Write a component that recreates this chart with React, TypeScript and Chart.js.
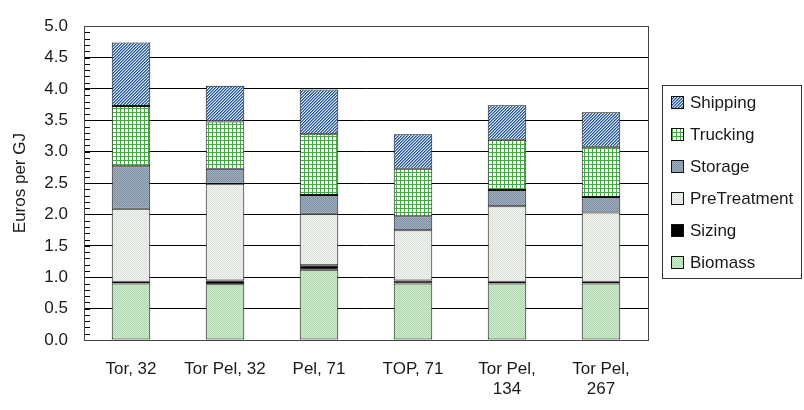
import React, { useEffect, useRef } from "react";
import { Chart, registerables } from "chart.js";

Chart.register(...registerables);

const categories: (string | string[])[] = [
  "Tor, 32",
  "Tor Pel, 32",
  "Pel, 71",
  "TOP, 71",
  ["Tor Pel,", "134"],
  ["Tor Pel,", "267"],
];
const biomass = [0.9, 0.89, 1.12, 0.9, 0.9, 0.9];
const sizing = [0.03, 0.06, 0.07, 0.05, 0.03, 0.03];
const preTreatment = [1.16, 1.54, 0.82, 0.8, 1.2, 1.1];
const storage = [0.68, 0.24, 0.3, 0.22, 0.26, 0.25];
const trucking = [0.96, 0.75, 0.97, 0.76, 0.8, 0.8];
const shipping = [1.01, 0.57, 0.71, 0.55, 0.55, 0.55];
const yTicks = [0, 0.5, 1, 1.5, 2, 2.5, 3, 3.5, 4, 4.5, 5];

const FONT = "'Liberation Sans', Arial, sans-serif";
const FONT_SIZE = 17;
const TEXT = "#1a1a1a";

function makePattern(size: number, draw: (c: CanvasRenderingContext2D) => void) {
  const cv = document.createElement("canvas");
  cv.width = size;
  cv.height = size;
  const c = cv.getContext("2d")!;
  draw(c);
  return c.createPattern(cv, "repeat")!;
}

function checker(a: string, b: string) {
  return makePattern(2, (c) => {
    c.fillStyle = a;
    c.fillRect(0, 0, 2, 2);
    c.fillStyle = b;
    c.fillRect(0, 0, 1, 1);
    c.fillRect(1, 1, 1, 1);
  });
}

const frameAndLegend = {
  id: "frameAndLegend",
  afterDraw(chart: any) {
    const { ctx, chartArea } = chart;
    const yScale = chart.scales.y;
    ctx.save();
    // minor ticks inside the plot
    ctx.strokeStyle = "#000";
    ctx.lineWidth = 1;
    ctx.beginPath();
    const x0 = Math.round(chartArea.left);
    for (let i = 0; i <= 50; i++) {
      const py = Math.round(yScale.getPixelForValue(i / 10)) + 0.5;
      ctx.moveTo(x0, py);
      ctx.lineTo(x0 + 6, py);
    }
    ctx.stroke();
    // plot frame
    ctx.strokeStyle = "#444";
    ctx.strokeRect(
      Math.round(chartArea.left) + 0.5,
      Math.round(chartArea.top) + 0.5,
      Math.round(chartArea.right - chartArea.left),
      Math.round(chartArea.bottom - chartArea.top)
    );
    // legend
    const lx = Math.round(chartArea.right) + 14;
    const ly = 85;
    const lw = 139;
    const lh = 193;
    ctx.strokeStyle = "#333";
    ctx.strokeRect(lx + 0.5, ly + 0.5, lw, lh);
    const ds = chart.data.datasets.slice().reverse();
    ctx.font = `${FONT_SIZE}px ${FONT}`;
    ctx.textBaseline = "middle";
    ds.forEach((d: any, i: number) => {
      const cy = ly + 17 + i * 32;
      ctx.fillStyle = d.backgroundColor;
      ctx.fillRect(lx + 9, cy - 6, 13, 13);
      ctx.strokeStyle = "#111";
      ctx.strokeRect(lx + 9.5, cy - 5.5, 12, 12);
      ctx.fillStyle = TEXT;
      ctx.fillText(d.label, lx + 28, cy + 1);
    });
    ctx.restore();
  },
};

export default function App() {
  const ref = useRef<HTMLCanvasElement>(null);
  useEffect(() => {
    const canvas = ref.current!;
    const shipPat = makePattern(3, (c) => {
      c.fillStyle = "#dbe6f4";
      c.fillRect(0, 0, 3, 3);
      for (let i = 0; i < 3; i++) {
        c.fillStyle = "#2a5894";
        c.fillRect(i, 2 - i, 1, 1);
        c.fillStyle = "#6f93c4";
        c.fillRect((i + 1) % 3, 2 - i, 1, 1);
      }
    });
    const truckPat = makePattern(4, (c) => {
      c.fillStyle = "#ffffff";
      c.fillRect(0, 0, 4, 4);
      c.fillStyle = "#45a845";
      c.fillRect(0, 0, 4, 1);
      c.fillRect(0, 0, 1, 4);
    });
    const storagePat = checker("#9eacbc", "#8393a7");
    const prePat = checker("#f3f5f1", "#d9e0d8");
    const bioPat = checker("#cdeacd", "#b2dab2");

    const common = {
      borderColor: "#111",
      borderWidth: 1,
      borderSkipped: false as const,
      categoryPercentage: 1,
      barPercentage: 0.41,
    };
    const chart = new Chart(canvas, {
      type: "bar",
      data: {
        labels: categories,
        datasets: [
          { label: "Biomass", data: biomass, backgroundColor: bioPat, ...common },
          { label: "Sizing", data: sizing, backgroundColor: "#000", ...common },
          { label: "PreTreatment", data: preTreatment, backgroundColor: prePat, ...common },
          { label: "Storage", data: storage, backgroundColor: storagePat, ...common },
          { label: "Trucking", data: trucking, backgroundColor: truckPat, ...common },
          { label: "Shipping", data: shipping, backgroundColor: shipPat, ...common },
        ] as any,
      },
      options: {
        responsive: false,
        animation: false,
        devicePixelRatio: 1,
        layout: { padding: { top: 21, right: 156, left: 0, bottom: 0 } },
        plugins: { legend: { display: false }, tooltip: { enabled: false } },
        scales: {
          x: {
            stacked: true,
            grid: { display: false, drawTicks: false },
            border: { display: true, color: "#000" },
            ticks: {
              color: TEXT,
              font: { family: FONT, size: FONT_SIZE, lineHeight: 1.2 },
              padding: 19,
              maxRotation: 0,
              autoSkip: false,
            },
            afterFit: (s: any) => {
              s.height = 70;
            },
          },
          y: {
            stacked: true,
            min: 0,
            max: 5,
            afterBuildTicks: (s: any) => {
              s.ticks = yTicks.map((v) => ({ value: v }));
            },
            grid: { color: "#000", lineWidth: 1, drawTicks: false },
            border: { display: true, color: "#000" },
            ticks: {
              color: TEXT,
              font: { family: FONT, size: FONT_SIZE },
              padding: 16,
              callback: (v: any) => Number(v).toFixed(1),
            },
            title: {
              display: true,
              text: "Euros per GJ",
              color: TEXT,
              font: { family: FONT, size: FONT_SIZE },
              padding: { top: 10, bottom: 0 },
            },
            afterFit: (s: any) => {
              s.width = 84;
            },
          },
        },
      },
      plugins: [frameAndLegend],
    });
    return () => chart.destroy();
  }, []);
  return (
    <div style={{ position: "fixed", left: 0, top: 0, width: 804, height: 410, background: "#fff" }}>
      <canvas ref={ref} width={804} height={410} style={{ display: "block" }} />
    </div>
  );
}
